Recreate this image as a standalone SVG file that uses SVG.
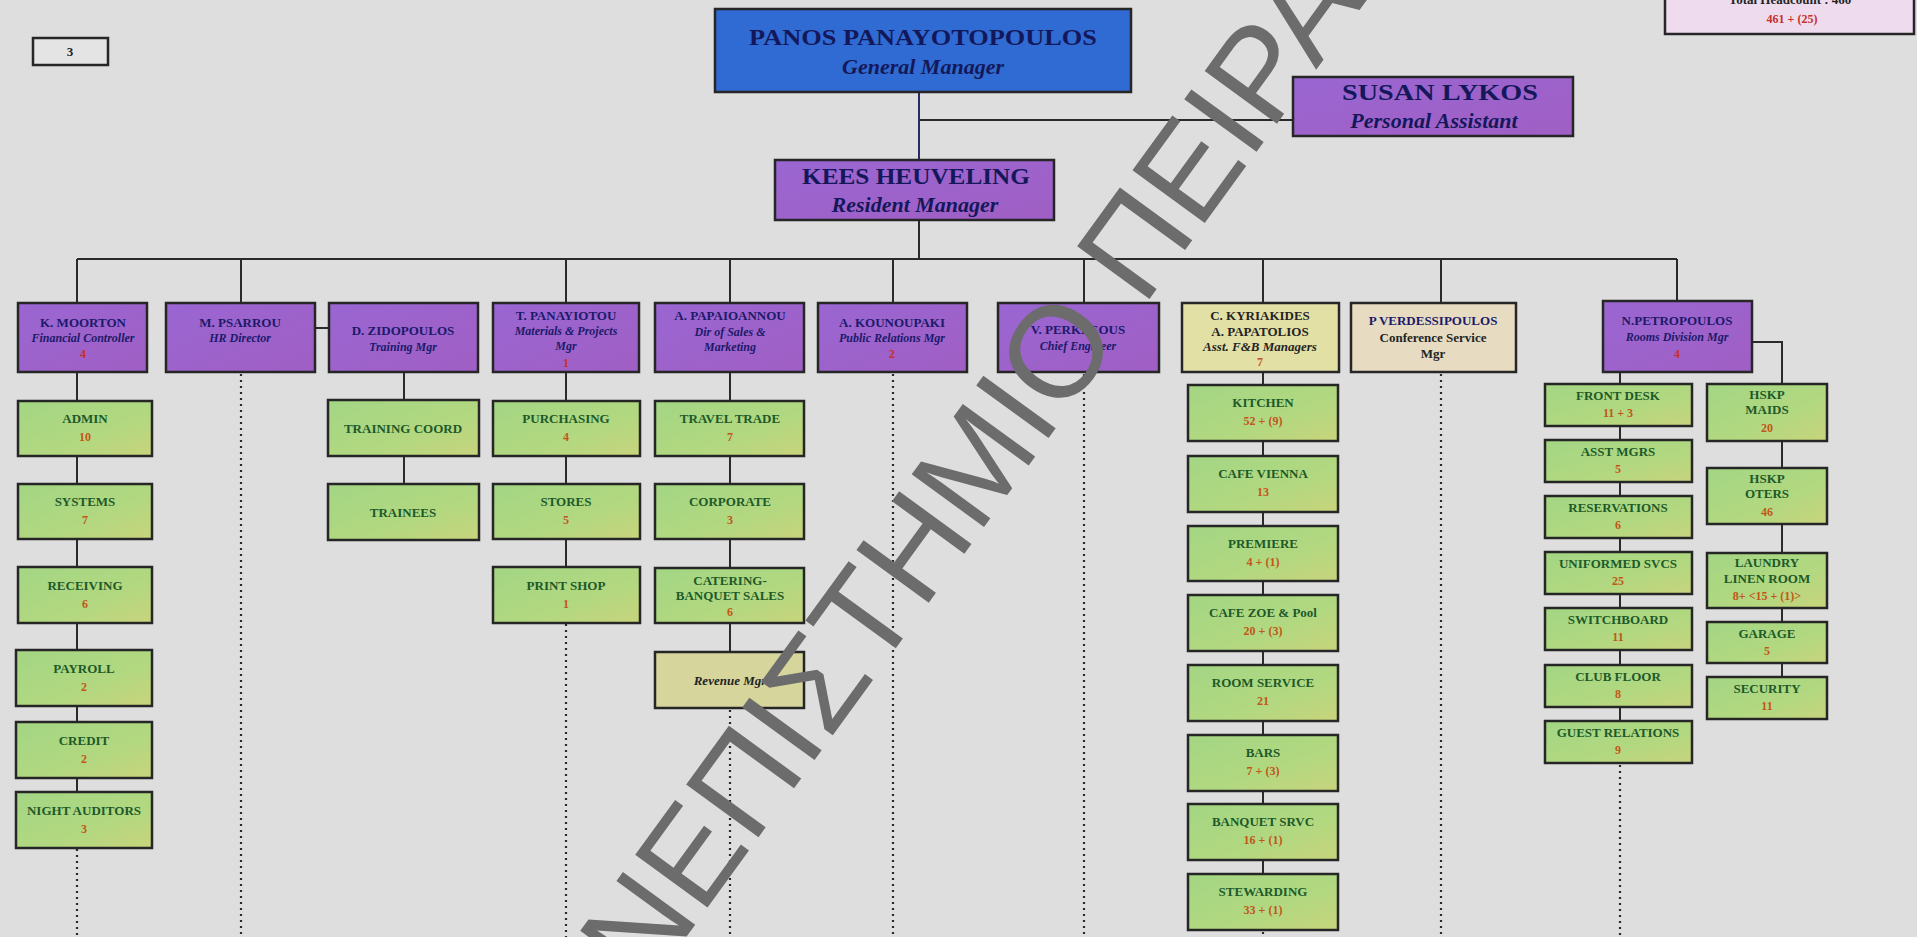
<svg xmlns="http://www.w3.org/2000/svg" width="1917" height="937" viewBox="0 0 1917 937">
<defs>
<linearGradient id="gGreen" x1="0" y1="0" x2="1" y2="1">
<stop offset="0" stop-color="#a3d684"/>
<stop offset="0.6" stop-color="#b2d880"/>
<stop offset="1" stop-color="#c8d47c"/>
</linearGradient>
<linearGradient id="gPurple" x1="0" y1="0" x2="1" y2="1">
<stop offset="0" stop-color="#9a66d2"/>
<stop offset="1" stop-color="#a05fc4"/>
</linearGradient>
<style>
.bx{stroke:#262626;stroke-width:2.5}
.pu{fill:url(#gPurple)}
.gr{fill:url(#gGreen)}
.bl{fill:#2f6bd2}
.ye{fill:#e3e0a6}
.be{fill:#e7dcc2}
.rv{fill:#d6d69c}
.ln{stroke:#2a2a2a;stroke-width:2;fill:none}
.nv{stroke:#2a2a6a;stroke-width:2;fill:none}
.dt{stroke:#2a2a2a;stroke-width:2.2;stroke-dasharray:2 4;fill:none}
text{font-family:"Liberation Serif","Times New Roman",serif;text-anchor:middle;font-weight:bold}
.nm{font-size:13px;fill:#1c1a6a}
.sb{font-size:12px;fill:#1c1a6a;font-style:italic}
.big{font-size:24px;fill:#14185a}
.bigi{font-size:22px;fill:#14185a;font-style:italic}
.gl{font-size:13px;fill:#1d5a2a}
.num{font-size:12px;fill:#c2561a}
.red{font-size:12px;fill:#c8302a}
.dk{font-size:13px;fill:#242424}
</style>
</defs>
<rect x="0" y="0" width="1917" height="937" fill="#dedede"/>

<g id="connectors">
<line class="nv" x1="919" y1="92" x2="919" y2="160"/>
<line class="ln" x1="919" y1="120" x2="1293" y2="120"/>
<line class="ln" x1="919" y1="220" x2="919" y2="259"/>
<line class="ln" x1="77" y1="259" x2="1677" y2="259"/>
<line class="ln" x1="77" y1="259" x2="77" y2="303"/>
<line class="ln" x1="241" y1="259" x2="241" y2="303"/>
<line class="ln" x1="566" y1="259" x2="566" y2="303"/>
<line class="ln" x1="730" y1="259" x2="730" y2="303"/>
<line class="ln" x1="893" y1="259" x2="893" y2="303"/>
<line class="ln" x1="1084" y1="259" x2="1084" y2="303"/>
<line class="ln" x1="1263" y1="259" x2="1263" y2="303"/>
<line class="ln" x1="1441" y1="259" x2="1441" y2="303"/>
<line class="ln" x1="1677" y1="259" x2="1677" y2="301"/>
<line class="ln" x1="315" y1="328" x2="329" y2="328"/>
<line class="ln" x1="77" y1="372" x2="77" y2="792"/>
<line class="ln" x1="404" y1="372" x2="404" y2="484"/>
<line class="ln" x1="566" y1="372" x2="566" y2="567"/>
<line class="ln" x1="730" y1="372" x2="730" y2="652"/>
<line class="ln" x1="1263" y1="372" x2="1263" y2="874"/>
<line class="ln" x1="1620" y1="372" x2="1620" y2="721"/>
<polyline class="ln" points="1752,342 1782,342 1782,677"/>
<line class="dt" x1="77" y1="849" x2="77" y2="937"/>
<line class="dt" x1="241" y1="374" x2="241" y2="937"/>
<line class="dt" x1="566" y1="624" x2="566" y2="937"/>
<line class="dt" x1="730" y1="710" x2="730" y2="937"/>
<line class="dt" x1="893" y1="374" x2="893" y2="937"/>
<line class="dt" x1="1084" y1="374" x2="1084" y2="937"/>
<line class="dt" x1="1263" y1="932" x2="1263" y2="937"/>
<line class="dt" x1="1441" y1="374" x2="1441" y2="937"/>
<line class="dt" x1="1620" y1="765" x2="1620" y2="937"/>
</g>

<g id="box-3"><rect class="bx" x="33" y="38" width="75" height="27" fill="#e4e4e4"/><text x="70" y="56" class="dk" font-size="12">3</text></g>
<g id="total"><rect class="bx" x="1665" y="-10" width="249" height="44" fill="#eedcee"/><text x="1790" y="4" class="dk">Total Headcount : 460</text><text x="1792" y="23" class="red">461 + (25)</text></g>

<g id="gm"><rect class="bx bl" x="715" y="9" width="416" height="83"/><text x="923" y="45" class="big" textLength="348" lengthAdjust="spacingAndGlyphs">PANOS PANAYOTOPOULOS</text><text x="923" y="74" class="bigi">General Manager</text></g>
<g id="susan"><rect class="bx pu" x="1293" y="77" width="280" height="59"/><text x="1440" y="100" class="big" font-size="22" textLength="196" lengthAdjust="spacingAndGlyphs">SUSAN LYKOS</text><text x="1434" y="128" class="bigi" font-size="21">Personal Assistant</text></g>
<g id="kees"><rect class="bx pu" x="775" y="160" width="279" height="60"/><text x="916" y="184" class="big" font-size="22" textLength="228" lengthAdjust="spacingAndGlyphs">KEES HEUVELING</text><text x="915" y="212" class="bigi" font-size="21">Resident Manager</text></g>

<g id="moorton"><rect class="bx pu" x="18" y="303" width="129" height="69"/><text x="83" y="327" class="nm">K. MOORTON</text><text x="83" y="342" class="sb" font-size="11">Financial Controller</text><text x="83" y="358" class="red">4</text></g>
<g id="psarrou"><rect class="bx pu" x="166" y="303" width="149" height="69"/><text x="240" y="327" class="nm">M. PSARROU</text><text x="240" y="342" class="sb">HR Director</text></g>
<g id="zidopoulos"><rect class="bx pu" x="329" y="303" width="149" height="69"/><text x="403" y="335" class="nm">D. ZIDOPOULOS</text><text x="403" y="351" class="sb">Training Mgr</text></g>
<g id="panayiotou"><rect class="bx pu" x="493" y="303" width="146" height="69"/><text x="566" y="320" class="nm">T. PANAYIOTOU</text><text x="566" y="335" class="sb" font-size="11">Materials &amp; Projects</text><text x="566" y="350" class="sb" font-size="11">Mgr</text><text x="566" y="367" class="red" font-size="10">1</text></g>
<g id="papaioannou"><rect class="bx pu" x="655" y="303" width="149" height="69"/><text x="730" y="320" class="nm">A. PAPAIOANNOU</text><text x="730" y="336" class="sb" font-size="11">Dir of Sales &amp;</text><text x="730" y="351" class="sb" font-size="11">Marketing</text></g>
<g id="kounoupaki"><rect class="bx pu" x="818" y="303" width="149" height="69"/><text x="892" y="327" class="nm">A. KOUNOUPAKI</text><text x="892" y="342" class="sb" font-size="11">Public Relations Mgr</text><text x="892" y="358" class="red">2</text></g>
<g id="perkleous"><rect class="bx pu" x="998" y="303" width="161" height="69"/><text x="1078" y="334" class="nm">V. PERKLEOUS</text><text x="1078" y="350" class="sb">Chief Engineer</text></g>
<g id="kyriakides"><rect class="bx ye" x="1182" y="303" width="157" height="69"/><text x="1260" y="320" class="dk">C. KYRIAKIDES</text><text x="1260" y="336" class="dk">A. PAPATOLIOS</text><text x="1260" y="351" class="dk" font-size="11" font-style="italic">Asst. F&amp;B Managers</text><text x="1260" y="366" class="num" fill="#d07010">7</text></g>
<g id="verdessi"><rect class="bx be" x="1351" y="303" width="165" height="69"/><text x="1433" y="325" class="nm" font-size="12">P VERDESSIPOULOS</text><text x="1433" y="342" class="dk" font-size="12" fill="#3a3a3a">Conference Service</text><text x="1433" y="358" class="dk" font-size="12" fill="#3a3a3a">Mgr</text></g>
<g id="petropoulos"><rect class="bx pu" x="1603" y="301" width="149" height="71"/><text x="1677" y="325" class="nm">N.PETROPOULOS</text><text x="1677" y="341" class="sb" font-size="11">Rooms Division Mgr</text><text x="1677" y="358" class="red">4</text></g>

<g id="admin"><rect class="bx gr" x="18" y="401" width="134" height="55"/><text x="85" y="423" class="gl">ADMIN</text><text x="85" y="441" class="num">10</text></g>
<g id="systems"><rect class="bx gr" x="18" y="484" width="134" height="55"/><text x="85" y="506" class="gl">SYSTEMS</text><text x="85" y="524" class="num">7</text></g>
<g id="receiving"><rect class="bx gr" x="18" y="567" width="134" height="56"/><text x="85" y="590" class="gl">RECEIVING</text><text x="85" y="608" class="num">6</text></g>
<g id="payroll"><rect class="bx gr" x="16" y="650" width="136" height="56"/><text x="84" y="673" class="gl">PAYROLL</text><text x="84" y="691" class="num">2</text></g>
<g id="credit"><rect class="bx gr" x="16" y="722" width="136" height="56"/><text x="84" y="745" class="gl">CREDIT</text><text x="84" y="763" class="num">2</text></g>
<g id="night-auditors"><rect class="bx gr" x="16" y="792" width="136" height="56"/><text x="84" y="815" class="gl" font-size="12">NIGHT AUDITORS</text><text x="84" y="833" class="num">3</text></g>

<g id="training-coord"><rect class="bx gr" x="328" y="400" width="151" height="56"/><text x="403" y="433" class="gl">TRAINING COORD</text></g>
<g id="trainees"><rect class="bx gr" x="328" y="484" width="151" height="56"/><text x="403" y="517" class="gl">TRAINEES</text></g>

<g id="purchasing"><rect class="bx gr" x="493" y="401" width="147" height="55"/><text x="566" y="423" class="gl">PURCHASING</text><text x="566" y="441" class="num">4</text></g>
<g id="stores"><rect class="bx gr" x="493" y="484" width="147" height="55"/><text x="566" y="506" class="gl">STORES</text><text x="566" y="524" class="num">5</text></g>
<g id="print-shop"><rect class="bx gr" x="493" y="567" width="147" height="56"/><text x="566" y="590" class="gl">PRINT SHOP</text><text x="566" y="608" class="num">1</text></g>

<g id="travel-trade"><rect class="bx gr" x="655" y="401" width="149" height="55"/><text x="730" y="423" class="gl">TRAVEL TRADE</text><text x="730" y="441" class="num">7</text></g>
<g id="corporate"><rect class="bx gr" x="655" y="484" width="149" height="55"/><text x="730" y="506" class="gl">CORPORATE</text><text x="730" y="524" class="num">3</text></g>
<g id="catering"><rect class="bx gr" x="655" y="568" width="149" height="55"/><text x="730" y="585" class="gl">CATERING-</text><text x="730" y="600" class="gl">BANQUET  SALES</text><text x="730" y="616" class="num">6</text></g>
<g id="revenue"><rect class="bx rv" x="655" y="652" width="149" height="56"/><text x="730" y="685" class="dk" font-size="12" font-style="italic">Revenue Mgr</text></g>

<g id="kitchen"><rect class="bx gr" x="1188" y="385" width="150" height="56"/><text x="1263" y="407" class="gl">KITCHEN</text><text x="1263" y="425" class="num">52 + (9)</text></g>
<g id="cafe-vienna"><rect class="bx gr" x="1188" y="456" width="150" height="56"/><text x="1263" y="478" class="gl">CAFE VIENNA</text><text x="1263" y="496" class="num">13</text></g>
<g id="premiere"><rect class="bx gr" x="1188" y="526" width="150" height="55"/><text x="1263" y="548" class="gl">PREMIERE</text><text x="1263" y="566" class="num">4 + (1)</text></g>
<g id="cafe-zoe"><rect class="bx gr" x="1188" y="595" width="150" height="56"/><text x="1263" y="617" class="gl" font-size="12">CAFE ZOE &amp; Pool</text><text x="1263" y="635" class="num">20 + (3)</text></g>
<g id="room-service"><rect class="bx gr" x="1188" y="665" width="150" height="56"/><text x="1263" y="687" class="gl">ROOM SERVICE</text><text x="1263" y="705" class="num">21</text></g>
<g id="bars"><rect class="bx gr" x="1188" y="735" width="150" height="56"/><text x="1263" y="757" class="gl">BARS</text><text x="1263" y="775" class="num">7 + (3)</text></g>
<g id="banquet-srvc"><rect class="bx gr" x="1188" y="804" width="150" height="56"/><text x="1263" y="826" class="gl">BANQUET SRVC</text><text x="1263" y="844" class="num">16 + (1)</text></g>
<g id="stewarding"><rect class="bx gr" x="1188" y="874" width="150" height="56"/><text x="1263" y="896" class="gl">STEWARDING</text><text x="1263" y="914" class="num">33 + (1)</text></g>

<g id="front-desk"><rect class="bx gr" x="1545" y="384" width="147" height="42"/><text x="1618" y="400" class="gl">FRONT DESK</text><text x="1618" y="417" class="num">11 + 3</text></g>
<g id="asst-mgrs"><rect class="bx gr" x="1545" y="440" width="147" height="42"/><text x="1618" y="456" class="gl">ASST MGRS</text><text x="1618" y="473" class="num">5</text></g>
<g id="reservations"><rect class="bx gr" x="1545" y="496" width="147" height="42"/><text x="1618" y="512" class="gl">RESERVATIONS</text><text x="1618" y="529" class="num">6</text></g>
<g id="uniformed"><rect class="bx gr" x="1545" y="552" width="147" height="42"/><text x="1618" y="568" class="gl" font-size="12">UNIFORMED SVCS</text><text x="1618" y="585" class="num">25</text></g>
<g id="switchboard"><rect class="bx gr" x="1545" y="608" width="147" height="42"/><text x="1618" y="624" class="gl">SWITCHBOARD</text><text x="1618" y="641" class="num">11</text></g>
<g id="club-floor"><rect class="bx gr" x="1545" y="665" width="147" height="42"/><text x="1618" y="681" class="gl">CLUB FLOOR</text><text x="1618" y="698" class="num">8</text></g>
<g id="guest-relations"><rect class="bx gr" x="1545" y="721" width="147" height="42"/><text x="1618" y="737" class="gl" font-size="12">GUEST RELATIONS</text><text x="1618" y="754" class="num">9</text></g>

<g id="hskp-maids"><rect class="bx gr" x="1707" y="384" width="120" height="57"/><text x="1767" y="399" class="gl">HSKP</text><text x="1767" y="414" class="gl">MAIDS</text><text x="1767" y="432" class="num">20</text></g>
<g id="hskp-oters"><rect class="bx gr" x="1707" y="468" width="120" height="56"/><text x="1767" y="483" class="gl">HSKP</text><text x="1767" y="498" class="gl">OTERS</text><text x="1767" y="516" class="num">46</text></g>
<g id="laundry"><rect class="bx gr" x="1707" y="553" width="120" height="55"/><text x="1767" y="567" class="gl">LAUNDRY</text><text x="1767" y="583" class="gl">LINEN ROOM</text><text x="1767" y="600" class="num" font-size="11">8+ &lt;15 + (1)&gt;</text></g>
<g id="garage"><rect class="bx gr" x="1707" y="622" width="120" height="41"/><text x="1767" y="638" class="gl">GARAGE</text><text x="1767" y="655" class="num">5</text></g>
<g id="security"><rect class="bx gr" x="1707" y="677" width="120" height="42"/><text x="1767" y="693" class="gl">SECURITY</text><text x="1767" y="710" class="num">11</text></g>

<g id="watermark"><text transform="translate(540,1138) rotate(-54)" style="font-family:'Liberation Sans',Arial,sans-serif;font-weight:normal;text-anchor:start;font-size:130px;fill:#6c6c6c">ΠΑΝΕΠΙΣΤΗΜΙΟ ΠΕΙΡΑΙΩΣ</text></g>
</svg>
